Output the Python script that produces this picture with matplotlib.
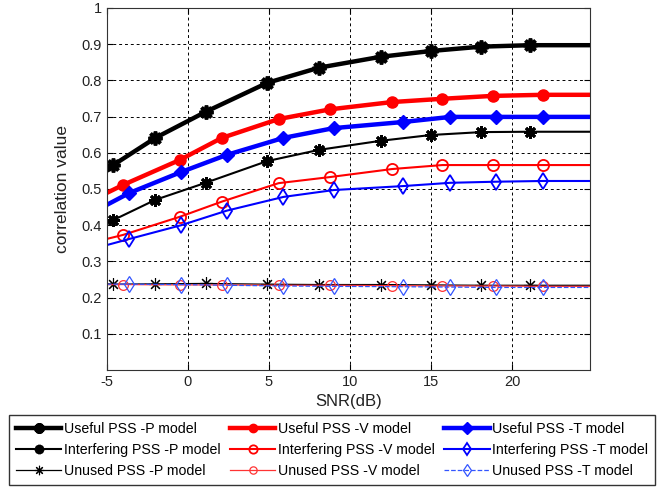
import numpy as np
import matplotlib
matplotlib.use('Agg')
import matplotlib.pyplot as plt
from matplotlib.markers import MarkerStyle

plt.rcParams['font.family'] = ['Liberation Sans', 'DejaVu Sans']
plt.rcParams['axes.unicode_minus'] = False

# SNR values (first and last points are the curve ends, the rest carry markers)
snr_p = [-5, -4.6, -2.0, 1.1, 4.9, 8.1, 11.9, 15.0, 18.1, 21.1, 24.8]
snr_v = [-5, -4.0, -0.5, 2.1, 5.6, 8.8, 12.6, 15.7, 18.8, 21.9, 24.8]
snr_t = [-5, -3.6, -0.4, 2.4, 5.9, 9.0, 13.3, 16.2, 19.0, 21.9, 24.8]

useful_p = [0.550, 0.566, 0.641, 0.713, 0.793, 0.835, 0.865, 0.881, 0.893, 0.897, 0.897]
interf_p = [0.406, 0.414, 0.470, 0.517, 0.577, 0.608, 0.633, 0.649, 0.657, 0.658, 0.658]
unused_p = [0.238, 0.237, 0.238, 0.239, 0.237, 0.236, 0.236, 0.235, 0.234, 0.234, 0.234]

useful_v = [0.489, 0.511, 0.580, 0.641, 0.693, 0.720, 0.740, 0.749, 0.757, 0.760, 0.760]
interf_v = [0.362, 0.373, 0.423, 0.465, 0.516, 0.533, 0.555, 0.566, 0.566, 0.566, 0.566]
unused_v = [0.236, 0.236, 0.235, 0.235, 0.234, 0.234, 0.233, 0.232, 0.232, 0.231, 0.231]

useful_t = [0.456, 0.489, 0.547, 0.594, 0.641, 0.668, 0.685, 0.699, 0.699, 0.699, 0.699]
interf_t = [0.345, 0.362, 0.400, 0.440, 0.478, 0.497, 0.508, 0.517, 0.520, 0.522, 0.522]
unused_t = [0.237, 0.237, 0.236, 0.234, 0.232, 0.231, 0.230, 0.229, 0.228, 0.228, 0.228]

labels = ['Useful PSS -P model', 'Interfering PSS -P model', 'Unused PSS -P model',
          'Useful PSS -V model', 'Interfering PSS -V model', 'Unused PSS -V model',
          'Useful PSS -T model', 'Interfering PSS -T model', 'Unused PSS -T model']

fig = plt.figure(figsize=(6.59, 4.94), dpi=100)
ax = fig.add_axes([0.162, 0.251, 0.733, 0.733])

mk = list(range(1, 10))
star = MarkerStyle((8, 2, 0), capstyle='butt')  # asterisk like matlab '*'

h_up, = ax.plot(snr_p, unused_p, '-', color='black', lw=0.9, marker=star, ms=9, mew=0.8, markevery=mk, zorder=2)
h_uv, = ax.plot(snr_v, unused_v, '-', color='#ff3333', lw=0.9, marker='o', ms=7, mfc='none', mew=0.9, markevery=mk, zorder=2)
h_ut, = ax.plot(snr_t, unused_t, '--', color='#3355ff', lw=0.9, marker='d', ms=8, mfc='none', mew=0.9, markevery=mk, zorder=2)

h_ip, = ax.plot(snr_p, interf_p, '-', color='black', lw=1.5, marker=star, ms=9, mew=2.0, markevery=mk)
h_iv, = ax.plot(snr_v, interf_v, '-', color='red', lw=1.5, marker='o', ms=8, mfc='none', mew=1.3, markevery=mk)
h_it, = ax.plot(snr_t, interf_t, '-', color='blue', lw=1.5, marker='d', ms=8, mfc='none', mew=1.3, markevery=mk)

h_fp, = ax.plot(snr_p, useful_p, '-', color='black', lw=3.2, marker=star, ms=10, mew=2.6, markevery=mk)
h_fv, = ax.plot(snr_v, useful_v, '-', color='red', lw=3.2, marker='o', ms=8, markevery=mk)
h_ft, = ax.plot(snr_t, useful_t, '-', color='blue', lw=3.2, marker='D', ms=7.5, markevery=mk)

ax.set_xlim(-5, 24.8)
ax.set_ylim(0, 1)
ax.set_xticks([-5, 0, 5, 10, 15, 20])
ax.set_yticks([0.1, 0.2, 0.3, 0.4, 0.5, 0.6, 0.7, 0.8, 0.9, 1])
ax.set_yticklabels(['0.1', '0.2', '0.3', '0.4', '0.5', '0.6', '0.7', '0.8', '0.9', '1'])
ax.tick_params(direction='in', labelsize=10.5, length=4, top=True, right=True, labelcolor='#222222')
ax.grid(True, color='black', linestyle=(0, (3, 3)), lw=0.7)
for s in ax.spines.values():
    s.set_color('#333333')
ax.set_xlabel('SNR(dB)', fontsize=12, labelpad=4, color='#222222')
ax.set_ylabel('correlation value', fontsize=12.5, labelpad=8, color='#222222')

leg = fig.legend([h_fp, h_ip, h_up, h_fv, h_iv, h_uv, h_ft, h_it, h_ut], labels,
                 ncol=3, loc='upper left',
                 bbox_to_anchor=(9 / 659, 1 - 415 / 494),
                 fontsize=10.2, handlelength=3.2, handletextpad=0.15, columnspacing=0.7,
                 labelspacing=0.5, borderpad=0.5, borderaxespad=0, fancybox=False, frameon=True,
                 edgecolor='black', markerscale=0.75)
leg.get_frame().set_linewidth(1.0)

fig.savefig('out.png', dpi=100)
